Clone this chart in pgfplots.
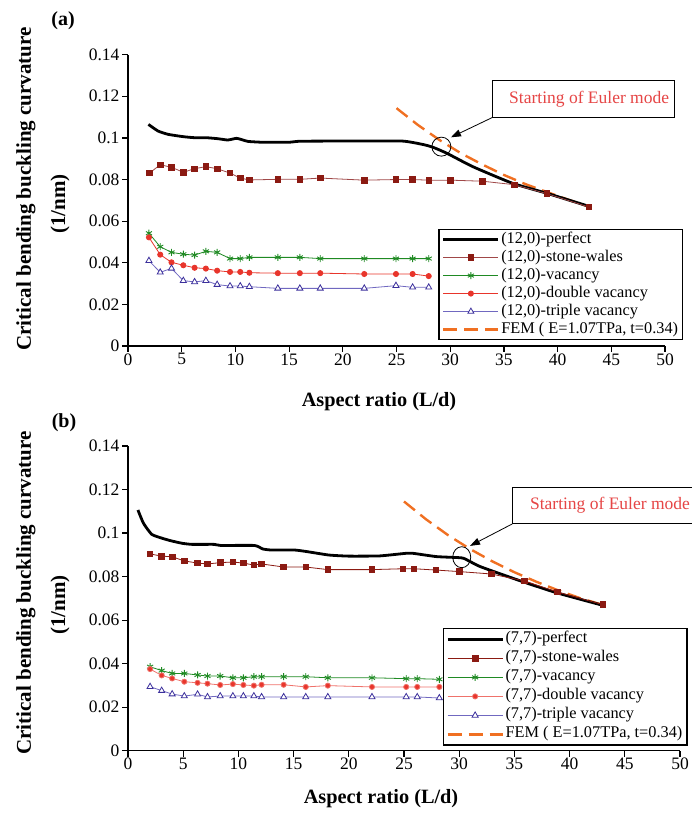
\documentclass[border=0pt]{standalone}
\usepackage{fontspec}
\setmainfont{Liberation Serif}
\usepackage{pgfplots}
\pgfplotsset{compat=1.18}
\usetikzlibrary{arrows.meta}

\definecolor{swred}{HTML}{8B1A12}
\definecolor{swline}{HTML}{A04848}
\definecolor{vgreen}{HTML}{1F8A23}
\definecolor{dvred}{HTML}{E8352B}
\definecolor{tvblue}{HTML}{3B2F9C}
\definecolor{tvline}{HTML}{7068C0}
\definecolor{femorange}{HTML}{F07022}
\definecolor{annred}{HTML}{E64545}

\pgfplotsset{
  panel/.style={
    scale only axis, clip=false,
    xmin=0, xmax=50, ymin=0, ymax=0.14,
    axis lines=left, axis line style={-, line width=1.2pt, black},
    xtick={0,5,10,15,20,25,30,35,40,45,50},
    xticklabels={0,5,10,15,20,25,30,35,40,45,50},
    ytick={0,0.02,0.04,0.06,0.08,0.1,0.12,0.14},
    yticklabels={0,0.02,0.04,0.06,0.08,0.1,0.12,0.14},
    tick align=outside, major tick length=6pt,
    tick style={line width=1.2pt, black},
    ticklabel style={font=\fontsize{17.5}{20}\selectfont},
    xticklabel style={yshift=2pt},
    yticklabel style={xshift=1pt},
    legend cell align=left,
    legend style={anchor=north west, draw=black, line width=1.2pt,
      font=\fontsize{16.3}{18}\selectfont, row sep=0pt,
      inner xsep=3pt, inner ysep=1pt,
      nodes={inner sep=1.5pt, text height=11pt, text depth=4pt}},
    legend image code/.code={\draw[mark repeat=2,mark phase=2,##1] plot coordinates {(0pt,0pt) (27.5pt,0pt) (55pt,0pt)};},
  },
  perf/.style={black, line width=2.8pt, no marks},
  sw/.style={swline, line width=0.8pt, mark=square*, mark size=2.8pt, mark options={solid, fill=swred, draw=swred}},
  vac/.style={vgreen, line width=0.8pt, mark=asterisk, mark size=3.5pt, mark options={solid, line width=0.9pt}},
  dvac/.style={dvred, line width=0.8pt, mark=*, mark size=2.6pt, mark options={solid, fill=dvred}},
  tvac/.style={tvline, line width=0.8pt, mark=triangle*, mark size=3.5pt, mark options={solid, fill=white, draw=tvblue, line width=0.8pt}},
  fem/.style={femorange, line width=2.4pt, dash pattern=on 14pt off 7pt, no marks},
}

\begin{document}
\begin{tikzpicture}
\path[use as bounding box] (0pt,0pt) rectangle (692pt,813pt);

% panel labels and axis titles
\node[font=\bfseries\fontsize{20}{22}\selectfont] at (63pt,792pt) {(a)};
\node[font=\bfseries\fontsize{20}{22}\selectfont] at (64pt,390pt) {(b)};
\node[rotate=90, font=\bfseries\fontsize{21}{24}\selectfont] at (26pt,624pt) {Critical bending buckling curvature};
\node[rotate=90, font=\bfseries\fontsize{21}{24}\selectfont] at (60pt,609pt) {(1/nm)};
\node[rotate=90, font=\bfseries\fontsize{21}{24}\selectfont] at (26pt,220pt) {Critical bending buckling curvature};
\node[rotate=90, font=\bfseries\fontsize{21}{24}\selectfont] at (60pt,208pt) {(1/nm)};
\node[font=\bfseries\fontsize{20.3}{23}\selectfont] at (379pt,411pt) {Aspect ratio (L/d)};
\node[font=\bfseries\fontsize{20.3}{23}\selectfont] at (381pt,14pt) {Aspect ratio (L/d)};

% ---------------- (a) (12,0) ----------------
\begin{axis}[panel, at={(128pt,467pt)}, anchor=south west,
  width=537pt, height=291.3pt,
  legend style={at={(0.578,0.4017)}}]
\addplot[fem, forget plot] coordinates {
(25,0.1143)(27,0.1062)(29,0.0990)(31,0.0926)(33,0.0872)(35,0.0822)(37,0.0778)(39,0.0740)(41,0.0703)(43,0.0668)};
\addplot[perf, smooth, tension=0.3] coordinates {
(1.9,0.1065)(2.8,0.1033)(3.75,0.1017)(5.15,0.1006)(6.2,0.1001)(7.3,0.1001)(8.4,0.0996)(9.3,0.0990)(10.1,0.0998)(10.7,0.0990)(11.2,0.0983)(12.6,0.0979)(15,0.0979)(16,0.0984)(20,0.0985)(25.5,0.0985)(27.5,0.0968)(28.4,0.0955)(29.7,0.0926)(32.1,0.0862)(35.8,0.0782)(39,0.0734)(43,0.0670)};
\addlegendentry{(12,0)-perfect}
\addplot[sw] coordinates {
(2,0.0831)(3,0.0871)(4.05,0.0859)(5.15,0.0835)(6.2,0.0852)(7.25,0.0862)(8.3,0.0852)(9.5,0.0831)(10.45,0.0807)(11.3,0.0798)(13.95,0.0801)(16,0.0801)(17.9,0.0807)(22,0.0797)(24.95,0.0800)(26.5,0.0800)(28,0.0797)(30,0.0797)(33,0.0792)(36,0.0775)(39,0.0732)(42.9,0.0668)};
\addlegendentry{(12,0)-stone-wales}
\addplot[vac] coordinates {
(1.95,0.0542)(3,0.0477)(4.05,0.0450)(5.15,0.0441)(6.2,0.0437)(7.25,0.0455)(8.3,0.0450)(9.5,0.0420)(10.45,0.0420)(11.3,0.0426)(13.95,0.0426)(16,0.0426)(17.9,0.0420)(22,0.0420)(24.95,0.0420)(26.5,0.0420)(28,0.0420)};
\addlegendentry{(12,0)-vacancy}
\addplot[dvac] coordinates {
(1.95,0.0522)(3,0.0439)(4.05,0.0402)(5.15,0.0388)(6.2,0.0376)(7.25,0.0372)(8.3,0.0362)(9.5,0.0356)(10.45,0.0356)(11.3,0.0352)(13.95,0.0350)(16,0.0350)(17.9,0.0350)(22,0.0346)(24.95,0.0346)(26.5,0.0346)(28,0.0336)};
\addlegendentry{(12,0)-double vacancy}
\addplot[tvac] coordinates {
(1.95,0.0410)(3,0.0354)(4.05,0.0373)(5.15,0.0314)(6.2,0.0308)(7.25,0.0314)(8.3,0.0295)(9.5,0.0288)(10.45,0.0288)(11.3,0.0285)(13.95,0.0277)(16,0.0277)(17.9,0.0277)(22,0.0277)(24.95,0.0290)(26.5,0.0282)(28,0.0282)};
\addlegendentry{(12,0)-triple vacancy}
\addlegendimage{fem}
\addlegendentry{FEM ( E=1.07TPa, t=0.34)}
% annotation
\draw[line width=0.8pt] (axis cs:29.18,0.0958) circle[radius=9.5pt];
\draw[line width=1pt, fill=white] (axis cs:33.96,0.1099) rectangle (axis cs:50.9,0.1275);
\node[text=annred, font=\fontsize{17.5}{19}\selectfont] at (axis cs:42.94,0.1187) {Starting of Euler mode};
\draw[line width=0.8pt, -{Triangle[length=10pt,width=7pt]}] (axis cs:33.96,0.1099) -- (axis cs:30.07,0.1003);
\end{axis}

% ---------------- (b) (7,7) ----------------
\begin{axis}[panel, at={(128pt,62.3pt)}, anchor=south west,
  width=552pt, height=304.7pt,
  legend style={at={(0.570,0.4017)}, nodes={text height=11.5pt, text depth=4.5pt}}]
\addplot[fem, forget plot] coordinates {
(25,0.1145)(27,0.1063)(29,0.0990)(31,0.0926)(33,0.0870)(35,0.0820)(37,0.0776)(39,0.0736)(41,0.0700)(43,0.0670)};
\addplot[perf, smooth, tension=0.3] coordinates {
(0.9,0.1106)(1.4,0.1045)(2.15,0.0994)(3.1,0.0976)(3.85,0.0965)(4.9,0.0953)(5.8,0.0948)(7.8,0.0948)(8.4,0.0943)(11.45,0.0943)(12.2,0.0927)(13,0.0922)(15.1,0.0922)(16.3,0.0914)(18.2,0.0899)(20,0.0894)(22.8,0.0895)(25.2,0.0907)(25.8,0.0907)(27.9,0.0892)(29.5,0.0888)(30.4,0.0884)(31.9,0.0846)(35.5,0.0781)(38.8,0.0726)(43,0.0668)};
\addlegendentry{(7,7)-perfect}
\addplot[sw, draw=swred] coordinates {
(2,0.0904)(3.05,0.0894)(4,0.0891)(5.1,0.0872)(6.3,0.0862)(7.2,0.0858)(8.35,0.0864)(9.5,0.0867)(10.45,0.0862)(11.4,0.0853)(12.1,0.0858)(14.1,0.0844)(16.1,0.0844)(18.1,0.0832)(22.1,0.0832)(24.9,0.0836)(25.9,0.0836)(27.9,0.0830)(30,0.0823)(32.9,0.0812)(35.9,0.0780)(38.9,0.0729)(43,0.0671)};
\addlegendentry{(7,7)-stone-wales}
\addplot[vac] coordinates {
(2,0.0386)(3.05,0.0368)(4,0.0355)(5.1,0.0355)(6.3,0.0348)(7.2,0.0343)(8.35,0.0343)(9.5,0.0335)(10.45,0.0335)(11.4,0.0340)(12.1,0.0340)(14.1,0.0340)(16.1,0.0340)(18.1,0.0335)(22.1,0.0335)(25.2,0.0331)(26.2,0.0331)(28.2,0.0328)};
\addlegendentry{(7,7)-vacancy}
\addplot[dvac, draw=dvred!70] coordinates {
(2,0.0375)(3.05,0.0346)(4,0.0332)(5.1,0.0317)(6.3,0.0312)(7.2,0.0308)(8.35,0.0302)(9.5,0.0306)(10.45,0.0302)(11.4,0.0299)(12.1,0.0303)(14.1,0.0303)(16.1,0.0293)(18.1,0.0299)(22.1,0.0293)(25.2,0.0293)(26.2,0.0293)(28.2,0.0293)};
\addlegendentry{(7,7)-double vacancy}
\addplot[tvac] coordinates {
(2,0.0294)(3.05,0.0276)(4,0.0260)(5.1,0.0251)(6.3,0.0259)(7.2,0.0247)(8.35,0.0251)(9.5,0.0251)(10.45,0.0251)(11.4,0.0251)(12.1,0.0247)(14.1,0.0247)(16.1,0.0247)(18.1,0.0247)(22.1,0.0247)(25.2,0.0247)(26.2,0.0247)(28.2,0.0242)};
\addlegendentry{(7,7)-triple vacancy}
\addlegendimage{fem}
\addlegendentry{FEM ( E=1.07TPa, t=0.34)}
% annotation
\draw[line width=0.8pt] (axis cs:30.23,0.0889) ellipse[x radius=9pt, y radius=10.5pt];
\draw[line width=1pt, fill=white] (axis cs:34.81,0.1042) rectangle (axis cs:51.3,0.1210);
\node[text=annred, font=\fontsize{17.5}{19}\selectfont] at (axis cs:43.66,0.1126) {Starting of Euler mode};
\draw[line width=0.8pt, -{Triangle[length=10pt,width=7pt]}] (axis cs:34.81,0.1042) -- (axis cs:30.98,0.0941);
\end{axis}
\end{tikzpicture}
\end{document}
